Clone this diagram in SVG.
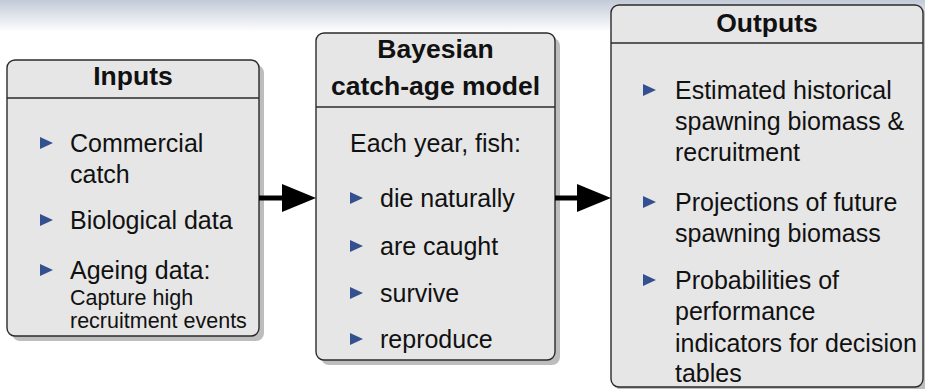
<svg xmlns="http://www.w3.org/2000/svg" width="925" height="389" viewBox="0 0 925 389">
  <defs>
    <linearGradient id="headShade" x1="0" y1="0" x2="0" y2="1">
      <stop offset="0" stop-color="#c3cad8"/>
      <stop offset="1" stop-color="#ffffff"/>
    </linearGradient>
    <polygon id="bullet" points="0,-6 13,0 0,6" fill="#33508f"/>
  </defs>
  <style>
    .shadow { fill: #bdbdbd; }
    .box { fill: #e6e6e6; stroke: #2b2b2b; stroke-width: 1.4; }
    .rule { stroke: #2b2b2b; stroke-width: 1.4; }
    .title { font-family: "Liberation Sans", Arial, sans-serif; font-weight: bold; font-size: 26.5px; fill: #111; text-anchor: middle; }
    .body { font-family: "Liberation Sans", Arial, sans-serif; font-size: 25px; fill: #111; }
    .small { font-family: "Liberation Sans", Arial, sans-serif; font-size: 21.5px; fill: #111; }
    .mid { text-anchor: middle; }
    .conn { stroke: #000; stroke-width: 5; fill: none; }
  </style>

  <!-- headline shading band -->
  <rect x="0" y="0" width="925" height="32" fill="url(#headShade)"/>

  <!-- Inputs -->
  <g id="inputs">
    <rect class="shadow" x="12" y="65" width="252" height="276" rx="8"/>
    <rect class="box" x="7" y="60" width="252" height="276" rx="8"/>
    <line class="rule" x1="7" y1="98" x2="259" y2="98"/>
    <text class="title" x="133" y="85">Inputs</text>
    <use href="#bullet" x="40" y="143"/>
    <text class="body" x="70" y="152">Commercial</text>
    <text class="body" x="70" y="183">catch</text>
    <use href="#bullet" x="40" y="220"/>
    <text class="body" x="70" y="229">Biological data</text>
    <use href="#bullet" x="40" y="270"/>
    <text class="body" x="70" y="279">Ageing data:</text>
    <text class="small" x="70" y="305">Capture high</text>
    <text class="small" x="70" y="328">recruitment events</text>
  </g>

  <!-- Bayesian catch-age model -->
  <g id="model">
    <rect class="shadow" x="321" y="38" width="239" height="327" rx="8"/>
    <rect class="box" x="316" y="33" width="239" height="327" rx="8"/>
    <line class="rule" x1="316" y1="107" x2="555" y2="107"/>
    <text class="title" x="435.5" y="58">Bayesian</text>
    <text class="title" x="435.5" y="95">catch-age model</text>
    <text class="body mid" x="435.5" y="152">Each year, fish:</text>
    <use href="#bullet" x="350" y="198"/>
    <text class="body" x="380" y="207">die naturally</text>
    <use href="#bullet" x="350" y="246"/>
    <text class="body" x="380" y="255">are caught</text>
    <use href="#bullet" x="350" y="293"/>
    <text class="body" x="380" y="302">survive</text>
    <use href="#bullet" x="350" y="339"/>
    <text class="body" x="380" y="348">reproduce</text>
  </g>

  <!-- Outputs -->
  <g id="outputs">
    <rect class="shadow" x="616" y="10" width="312" height="382" rx="8"/>
    <rect class="box" x="611" y="5" width="312" height="382" rx="8"/>
    <line class="rule" x1="611" y1="43" x2="923" y2="43"/>
    <text class="title" x="767" y="32">Outputs</text>
    <use href="#bullet" x="643" y="90"/>
    <text class="body" x="675" y="99">Estimated historical</text>
    <text class="body" x="675" y="130">spawning biomass &amp;</text>
    <text class="body" x="675" y="161">recruitment</text>
    <use href="#bullet" x="643" y="202"/>
    <text class="body" x="675" y="211">Projections of future</text>
    <text class="body" x="675" y="242">spawning biomass</text>
    <use href="#bullet" x="643" y="280"/>
    <text class="body" x="675" y="289">Probabilities of</text>
    <text class="body" x="675" y="320">performance</text>
    <text class="body" x="675" y="352">indicators for decision</text>
    <text class="body" x="675" y="382">tables</text>
  </g>

  <!-- connectors -->
  <g id="connectors">
    <line class="conn" x1="259" y1="198" x2="284" y2="198"/>
    <polygon points="282,184 316,198 282,212" fill="#000"/>
    <line class="conn" x1="555" y1="198" x2="579" y2="198"/>
    <polygon points="577,184 611,198 577,212" fill="#000"/>
  </g>
</svg>
